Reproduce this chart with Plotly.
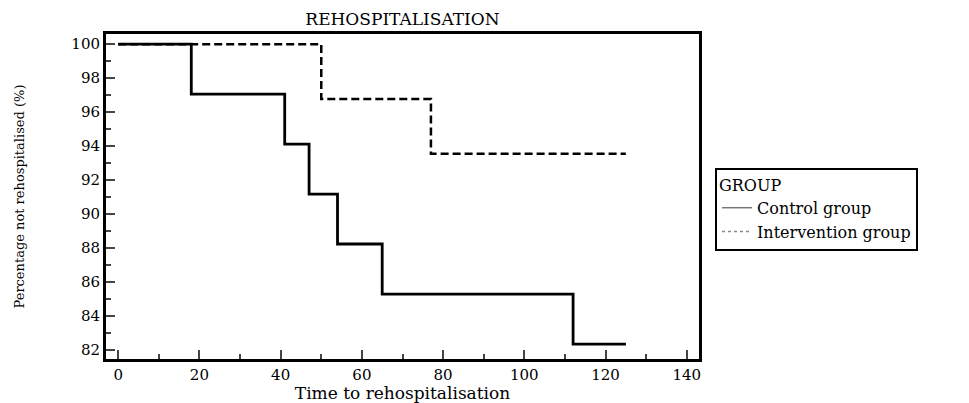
import plotly.graph_objects as go

# Data
control_time = [0, 18, 41, 47, 54, 65, 112, 125]
control_pct = [100, 97.06, 94.12, 91.18, 88.24, 85.29, 82.35, 82.35]
interv_time = [0, 50, 77, 125]
interv_pct = [100, 96.77, 93.55, 93.55]
x_ticks = [0, 20, 40, 60, 80, 100, 120, 140]
y_ticks = [82, 84, 86, 88, 90, 92, 94, 96, 98, 100]

FONT = "DejaVu Serif"
W, H = 961, 395
L, R, T, B = 98, 270, 26, 44

fig = go.Figure()
fig.add_trace(go.Scatter(x=interv_time, y=interv_pct, mode="lines", line_shape="hv",
                         line=dict(color="black", width=2.5, dash="8px,4px"), showlegend=False))
fig.add_trace(go.Scatter(x=control_time, y=control_pct, mode="lines", line_shape="hv",
                         line=dict(color="black", width=2.8), showlegend=False))
# legend entries
fig.add_trace(go.Scatter(x=[None], y=[None], mode="lines", name="Control group",
                         line=dict(color="#777777", width=1.5)))
fig.add_trace(go.Scatter(x=[None], y=[None], mode="lines", name="Intervention group",
                         line=dict(color="#888888", width=1.5, dash="dot")))

fig.update_layout(
    width=W, height=H,
    margin=dict(l=L, r=R, t=T, b=B, autoexpand=False),
    paper_bgcolor="white", plot_bgcolor="white",
    font=dict(family=FONT, color="black", size=14),
    title=dict(text="REHOSPITALISATION", x=(L + (W - R)) / 2 / W, xanchor="center",
               y=1 - 11 / H, yanchor="middle", font=dict(size=17, family=FONT)),
    legend=dict(title=dict(text="GROUP", font=dict(size=16)), font=dict(size=16),
                x=1.027, xanchor="left", y=0.46, yanchor="middle",
                bordercolor="black", borderwidth=2, bgcolor="white",
                tracegroupgap=0, itemwidth=30, entrywidth=236, entrywidthmode="pixels"),
)
fig.update_xaxes(range=[-3, 143], tickvals=x_ticks, ticks="inside", ticklen=9, tickwidth=2,
                 showline=True, linecolor="black", linewidth=3, mirror=True, showgrid=False,
                 zeroline=False, minor=dict(dtick=10, ticks="inside", ticklen=5, tickwidth=1.5),
                 title=dict(text="Time to rehospitalisation", standoff=2, font=dict(size=17)),
                 tickfont=dict(size=15))
fig.update_yaxes(range=[81.47, 100.6], tickvals=y_ticks, ticks="inside", ticklen=9, tickwidth=2,
                 showline=True, linecolor="black", linewidth=3, mirror=True, showgrid=False,
                 zeroline=False, minor=dict(dtick=1, tick0=81, ticks="inside", ticklen=5, tickwidth=1.5),
                 title=dict(text="Percentage not rehospitalised (%)", standoff=44, font=dict(size=13)),
                 tickfont=dict(size=15))

fig.write_html("out.html")
